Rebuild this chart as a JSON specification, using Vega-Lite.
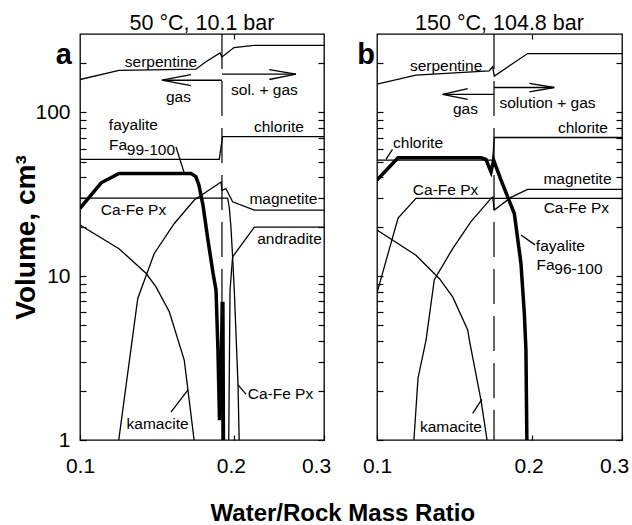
{
"$schema": "https://vega.github.io/schema/vega-lite/v6.json",
"padding": {"left": 12, "top": 12, "right": 2, "bottom": 0},
"bounds": "flush",
"spacing": 53,
"config": {
  "font": "Liberation Sans",
  "view": {"stroke": "black", "strokeWidth": 1.3},
  "axis": {"grid": false, "tickColor": "black", "labelColor": "black", "titleColor": "black", "labelFontSize": 21, "tickWidth": 1.2, "domain": false},
  "text": {"font": "Liberation Sans", "color": "black"},
  "title": {"color": "black"}
},
"title": {"text": "Water/Rock Mass Ratio", "orient": "bottom", "anchor": "middle", "fontSize": 24, "fontWeight": "bold", "dx": 22, "offset": 25},
"datasets": {
 "lines": [
  {"p":"a","s":"serpentine","i":0,"x":0.1,"y":158.3},
  {"p":"a","s":"serpentine","i":1,"x":0.1192,"y":180},
  {"p":"a","s":"serpentine","i":2,"x":0.1685,"y":183},
  {"p":"a","s":"serpentine","i":3,"x":0.1763,"y":203},
  {"p":"a","s":"serpentine","i":4,"x":0.1878,"y":230},
  {"p":"a","s":"serpentine","i":5,"x":0.1895,"y":217},
  {"p":"a","s":"serpentine","i":6,"x":0.2,"y":248},
  {"p":"a","s":"serpentine","i":7,"x":0.2189,"y":256},
  {"p":"a","s":"serpentine","i":8,"x":0.3,"y":256},
  {"p":"a","s":"chlorite","i":0,"x":0.1,"y":51.5},
  {"p":"a","s":"chlorite","i":1,"x":0.1872,"y":51.5},
  {"p":"a","s":"chlorite","i":2,"x":0.19,"y":71},
  {"p":"a","s":"chlorite","i":3,"x":0.3,"y":71},
  {"p":"a","s":"capx","i":0,"x":0.1,"y":29.9},
  {"p":"a","s":"capx","i":1,"x":0.1944,"y":29.9},
  {"p":"a","s":"capx","i":2,"x":0.1958,"y":26.4},
  {"p":"a","s":"capx","i":3,"x":0.1973,"y":20},
  {"p":"a","s":"capx","i":4,"x":0.1988,"y":13.1},
  {"p":"a","s":"capx","i":5,"x":0.2003,"y":8.2},
  {"p":"a","s":"capx","i":6,"x":0.2037,"y":2.17},
  {"p":"a","s":"capx","i":7,"x":0.2049,"y":0.9},
  {"p":"a","s":"andradite","i":0,"x":0.1953,"y":0.9},
  {"p":"a","s":"andradite","i":1,"x":0.1965,"y":8.2},
  {"p":"a","s":"andradite","i":2,"x":0.1988,"y":13.1},
  {"p":"a","s":"andradite","i":3,"x":0.2192,"y":19.9},
  {"p":"a","s":"andradite","i":4,"x":0.3,"y":19.9},
  {"p":"a","s":"magnetite","i":0,"x":0.1188,"y":0.95},
  {"p":"a","s":"magnetite","i":1,"x":0.1297,"y":7.3},
  {"p":"a","s":"magnetite","i":2,"x":0.1397,"y":13.75},
  {"p":"a","s":"magnetite","i":3,"x":0.1529,"y":20.95},
  {"p":"a","s":"magnetite","i":4,"x":0.1673,"y":29.1},
  {"p":"a","s":"magnetite","i":5,"x":0.1887,"y":37.5},
  {"p":"a","s":"magnetite","i":6,"x":0.1895,"y":33.4},
  {"p":"a","s":"magnetite","i":7,"x":0.1929,"y":34.2},
  {"p":"a","s":"magnetite","i":8,"x":0.1988,"y":28.4},
  {"p":"a","s":"magnetite","i":9,"x":0.2192,"y":25.3},
  {"p":"a","s":"magnetite","i":10,"x":0.3,"y":25.3},
  {"p":"a","s":"kamacite","i":0,"x":0.1,"y":20.5},
  {"p":"a","s":"kamacite","i":1,"x":0.1192,"y":14.7},
  {"p":"a","s":"kamacite","i":2,"x":0.1346,"y":10.4},
  {"p":"a","s":"kamacite","i":3,"x":0.1408,"y":8.6},
  {"p":"a","s":"kamacite","i":4,"x":0.1495,"y":6.06},
  {"p":"a","s":"kamacite","i":5,"x":0.1599,"y":3.07},
  {"p":"a","s":"kamacite","i":6,"x":0.1675,"y":0.95},
  {"p":"a","s":"fayalite","i":0,"x":0.1,"y":25.9},
  {"p":"a","s":"fayalite","i":1,"x":0.11,"y":37.1},
  {"p":"a","s":"fayalite","i":2,"x":0.1192,"y":42.3},
  {"p":"a","s":"fayalite","i":3,"x":0.1648,"y":42.3},
  {"p":"a","s":"fayalite","i":4,"x":0.1685,"y":40.5},
  {"p":"a","s":"fayalite","i":5,"x":0.1708,"y":36},
  {"p":"a","s":"fayalite","i":6,"x":0.174,"y":27},
  {"p":"a","s":"fayalite","i":7,"x":0.1779,"y":16.6},
  {"p":"a","s":"fayalite","i":8,"x":0.182,"y":10.45},
  {"p":"a","s":"fayalite","i":9,"x":0.1845,"y":8.2},
  {"p":"a","s":"fayalite","i":10,"x":0.1861,"y":3.54},
  {"p":"a","s":"fayalite","i":11,"x":0.1874,"y":1.32},
  {"p":"a","s":"fayalite","i":12,"x":0.1891,"y":3.5},
  {"p":"a","s":"fayalite","i":13,"x":0.1897,"y":6.8},
  {"p":"a","s":"fayalite","i":14,"x":0.1903,"y":6.8},
  {"p":"a","s":"fayalite","i":15,"x":0.1908,"y":0.8},
  {"p":"a","s":"arrowL","i":0,"x":0.1895,"y":156.7},
  {"p":"a","s":"arrowL","i":1,"x":0.1446,"y":156.7},
  {"p":"a","s":"arrowLh","i":0,"x":0.1648,"y":169.3},
  {"p":"a","s":"arrowLh","i":1,"x":0.1446,"y":156.7},
  {"p":"a","s":"arrowLh","i":2,"x":0.1648,"y":145.1},
  {"p":"a","s":"arrowR","i":0,"x":0.1895,"y":170.5},
  {"p":"a","s":"arrowR","i":1,"x":0.2644,"y":170.5},
  {"p":"a","s":"arrowRh","i":0,"x":0.2345,"y":182.1},
  {"p":"a","s":"arrowRh","i":1,"x":0.2644,"y":170.5},
  {"p":"a","s":"arrowRh","i":2,"x":0.2345,"y":158.3},
  {"p":"a","s":"ldFa","i":0,"x":0.1541,"y":61.3},
  {"p":"a","s":"ldFa","i":1,"x":0.1597,"y":43.1},
  {"p":"a","s":"ldPx","i":0,"x":0.2037,"y":2.17},
  {"p":"a","s":"ldPx","i":1,"x":0.2111,"y":1.907},
  {"p":"a","s":"ldKa","i":0,"x":0.1506,"y":1.48},
  {"p":"a","s":"ldKa","i":1,"x":0.1626,"y":2.02},
  {"p":"b","s":"serpentine","i":0,"x":0.1,"y":148.3},
  {"p":"b","s":"serpentine","i":1,"x":0.1191,"y":168.5},
  {"p":"b","s":"serpentine","i":2,"x":0.1654,"y":178.9},
  {"p":"b","s":"serpentine","i":3,"x":0.168,"y":189.4},
  {"p":"b","s":"serpentine","i":4,"x":0.1692,"y":166.1},
  {"p":"b","s":"serpentine","i":5,"x":0.1965,"y":228},
  {"p":"b","s":"serpentine","i":6,"x":0.3,"y":228},
  {"p":"b","s":"chlorite","i":0,"x":0.1,"y":51},
  {"p":"b","s":"chlorite","i":1,"x":0.168,"y":51},
  {"p":"b","s":"chlorite","i":2,"x":0.1692,"y":70.1},
  {"p":"b","s":"chlorite","i":3,"x":0.3,"y":70.1},
  {"p":"b","s":"capx","i":0,"x":0.1,"y":7.9},
  {"p":"b","s":"capx","i":1,"x":0.1099,"y":22.6},
  {"p":"b","s":"capx","i":2,"x":0.1191,"y":29.8},
  {"p":"b","s":"capx","i":3,"x":0.3,"y":29.8},
  {"p":"b","s":"magnetite","i":0,"x":0.118,"y":1},
  {"p":"b","s":"magnetite","i":1,"x":0.1202,"y":2.39},
  {"p":"b","s":"magnetite","i":2,"x":0.1246,"y":4.07},
  {"p":"b","s":"magnetite","i":3,"x":0.1293,"y":9.5},
  {"p":"b","s":"magnetite","i":4,"x":0.1404,"y":14.7},
  {"p":"b","s":"magnetite","i":5,"x":0.1524,"y":21.5},
  {"p":"b","s":"magnetite","i":6,"x":0.1667,"y":29.8},
  {"p":"b","s":"magnetite","i":7,"x":0.168,"y":30.3},
  {"p":"b","s":"magnetite","i":8,"x":0.1692,"y":25.3},
  {"p":"b","s":"magnetite","i":9,"x":0.1823,"y":30.2},
  {"p":"b","s":"magnetite","i":10,"x":0.1965,"y":33.8},
  {"p":"b","s":"magnetite","i":11,"x":0.3,"y":33.8},
  {"p":"b","s":"kamacite","i":0,"x":0.1,"y":19.1},
  {"p":"b","s":"kamacite","i":1,"x":0.1191,"y":13.4},
  {"p":"b","s":"kamacite","i":2,"x":0.1322,"y":9.67},
  {"p":"b","s":"kamacite","i":3,"x":0.1404,"y":7.47},
  {"p":"b","s":"kamacite","i":4,"x":0.1502,"y":4.69},
  {"p":"b","s":"kamacite","i":5,"x":0.1513,"y":4.07},
  {"p":"b","s":"kamacite","i":6,"x":0.1594,"y":1.75},
  {"p":"b","s":"kamacite","i":7,"x":0.1638,"y":1},
  {"p":"b","s":"fayalite","i":0,"x":0.1,"y":38.5},
  {"p":"b","s":"fayalite","i":1,"x":0.1099,"y":52.7},
  {"p":"b","s":"fayalite","i":2,"x":0.1594,"y":52.7},
  {"p":"b","s":"fayalite","i":3,"x":0.163,"y":51.5},
  {"p":"b","s":"fayalite","i":4,"x":0.1667,"y":43.2},
  {"p":"b","s":"fayalite","i":5,"x":0.1687,"y":51},
  {"p":"b","s":"fayalite","i":6,"x":0.1744,"y":38.5},
  {"p":"b","s":"fayalite","i":7,"x":0.1807,"y":29.1},
  {"p":"b","s":"fayalite","i":8,"x":0.1851,"y":24.1},
  {"p":"b","s":"fayalite","i":9,"x":0.1907,"y":11.95},
  {"p":"b","s":"fayalite","i":10,"x":0.1936,"y":5.93},
  {"p":"b","s":"fayalite","i":11,"x":0.195,"y":3.54},
  {"p":"b","s":"fayalite","i":12,"x":0.1959,"y":0.9},
  {"p":"b","s":"arrowL","i":0,"x":0.169,"y":128.6},
  {"p":"b","s":"arrowL","i":1,"x":0.1342,"y":128.6},
  {"p":"b","s":"arrowLh","i":0,"x":0.1502,"y":139.4},
  {"p":"b","s":"arrowLh","i":1,"x":0.1342,"y":128.6},
  {"p":"b","s":"arrowLh","i":2,"x":0.1502,"y":119.6},
  {"p":"b","s":"arrowR","i":0,"x":0.169,"y":141.5},
  {"p":"b","s":"arrowR","i":1,"x":0.2214,"y":141.5},
  {"p":"b","s":"arrowRh","i":0,"x":0.198,"y":150.1},
  {"p":"b","s":"arrowRh","i":1,"x":0.2214,"y":141.5},
  {"p":"b","s":"arrowRh","i":2,"x":0.198,"y":132.9},
  {"p":"b","s":"ldCh","i":0,"x":0.1041,"y":51.6},
  {"p":"b","s":"ldCh","i":1,"x":0.1072,"y":59.3},
  {"p":"b","s":"ldFa","i":0,"x":0.1907,"y":17.8},
  {"p":"b","s":"ldFa","i":1,"x":0.2031,"y":15.5},
  {"p":"b","s":"ldKa","i":0,"x":0.1536,"y":1.455},
  {"p":"b","s":"ldKa","i":1,"x":0.16,"y":1.77}
 ],
 "labels": [
  {"p":"a","text":"serpentine","x":0.144,"y":202},
  {"p":"a","text":"gas","x":0.1558,"y":123.5},
  {"p":"a","text":"sol. + gas","x":0.2294,"y":136},
  {"p":"a","text":"fayalite","x":0.1272,"y":83.3},
  {"p":"a","text":"Fa","x":0.1187,"y":62.9},
  {"p":"a","text":"99-100","x":0.1376,"y":58.6},
  {"p":"a","text":"chlorite","x":0.2449,"y":81.1},
  {"p":"a","text":"magnetite","x":0.2499,"y":29.5},
  {"p":"a","text":"andradite","x":0.2568,"y":16.8},
  {"p":"a","text":"Ca-Fe Px","x":0.1272,"y":25.3},
  {"p":"a","text":"Ca-Fe Px","x":0.2466,"y":1.907},
  {"p":"a","text":"kamacite","x":0.1418,"y":1.252},
  {"p":"b","text":"serpentine","x":0.1363,"y":191},
  {"p":"b","text":"gas","x":0.1487,"y":104},
  {"p":"b","text":"solution + gas","x":0.2148,"y":113.5},
  {"p":"b","text":"chlorite","x":0.2518,"y":79.9},
  {"p":"b","text":"chlorite","x":0.1202,"y":64.7},
  {"p":"b","text":"magnetite","x":0.2457,"y":39.0},
  {"p":"b","text":"Ca-Fe Px","x":0.136,"y":33.4},
  {"p":"b","text":"Ca-Fe Px","x":0.2445,"y":26.0},
  {"p":"b","text":"fayalite","x":0.2276,"y":15.2},
  {"p":"b","text":"Fa","x":0.2129,"y":11.67},
  {"p":"b","text":"96-100","x":0.2468,"y":11.0},
  {"p":"b","text":"kamacite","x":0.1393,"y":1.2}
 ],
 "letters": [
  {"p":"a","text":"a","x":0.093,"y":222.6},
  {"p":"b","text":"b","x":0.0952,"y":222.6}
 ],
 "rules": [
  {"p":"a","x":0.1895},
  {"p":"b","x":0.169}
 ]
},
"hconcat": [
 {
  "width": 244, "height": 406,
  "title": {"text": "50 °C, 10.1 bar", "fontSize": 21.5, "fontWeight": "normal", "frame": "group", "anchor": "middle", "offset": -1},
  "resolve": {"axis": {"x": "independent", "y": "independent"}},
  "layer": [
   {"data": {"name": "lines"}, "transform": [{"filter": "datum.p == 'a' && datum.s != 'fayalite'"}],
    "mark": {"type": "line", "color": "black", "strokeWidth": 1.3, "clip": true},
    "encoding": {
     "x": {"field": "x", "type": "quantitative", "scale": {"type": "log", "domain": [0.1, 0.3], "nice": false},
           "axis": {"orient": "bottom", "values": [0.1, 0.2, 0.3], "format": ".1f", "labelFlush": false, "tickSize": -5, "labelPadding": 20, "title": null,
                    "labelOffset": {"condition": [{"test": "datum.value > 0.25", "value": -8}, {"test": "datum.value > 0.15", "value": -3}], "value": 0}}},
     "y": {"field": "y", "type": "quantitative", "scale": {"type": "log", "domain": [1, 300], "nice": false},
           "axis": {"orient": "left", "values": [1,2,3,4,5,6,7,8,9,10,20,30,40,50,60,70,80,90,100,200],
                    "labelExpr": "(datum.value==1||datum.value==10||datum.value==100) ? datum.value + '' : ''",
                    "tickSize": -6, "labelPadding": 16, "title": "Volume, cm³", "titleFontSize": 28, "titleFontWeight": "bold", "titlePadding": -6}},
     "detail": {"field": "s"},
     "order": {"field": "i", "type": "quantitative"}
    }},
   {"data": {"name": "lines"}, "transform": [{"filter": "datum.p == 'a' && datum.s == 'fayalite'"}],
    "mark": {"type": "line", "color": "black", "strokeWidth": 3.5, "clip": true},
    "encoding": {
     "x": {"field": "x", "type": "quantitative", "axis": null},
     "y": {"field": "y", "type": "quantitative",
           "axis": {"orient": "right", "values": [1,2,3,4,5,6,7,8,9,10,20,30,40,50,60,70,80,90,100,200], "labels": false, "title": null, "tickSize": -6}},
     "order": {"field": "i", "type": "quantitative"}
    }},
   {"data": {"name": "rules"}, "transform": [{"filter": "datum.p == 'a'"}],
    "mark": {"type": "rule", "color": "black", "strokeWidth": 1.2, "strokeDash": [35, 12]},
    "encoding": {"x": {"field": "x", "type": "quantitative", "axis": {"orient": "top", "values": [0.2], "labels": false, "title": null, "tickSize": -5}}}},
   {"data": {"name": "labels"}, "transform": [{"filter": "datum.p == 'a'"}],
    "mark": {"type": "text", "fontSize": 15.5, "color": "black"},
    "encoding": {"x": {"field": "x", "type": "quantitative", "axis": null}, "y": {"field": "y", "type": "quantitative", "axis": null}, "text": {"field": "text"}}},
   {"data": {"name": "letters"}, "transform": [{"filter": "datum.p == 'a'"}],
    "mark": {"type": "text", "fontSize": 29, "fontWeight": "bold", "color": "black"},
    "encoding": {"x": {"field": "x", "type": "quantitative", "axis": null}, "y": {"field": "y", "type": "quantitative", "axis": null}, "text": {"field": "text"}}}
  ]
 },
 {
  "width": 245, "height": 406,
  "title": {"text": "150 °C, 104.8 bar", "fontSize": 21.5, "fontWeight": "normal", "frame": "group", "anchor": "middle", "offset": -1},
  "resolve": {"axis": {"x": "independent", "y": "independent"}},
  "layer": [
   {"data": {"name": "lines"}, "transform": [{"filter": "datum.p == 'b' && datum.s != 'fayalite'"}],
    "mark": {"type": "line", "color": "black", "strokeWidth": 1.3, "clip": true},
    "encoding": {
     "x": {"field": "x", "type": "quantitative", "scale": {"type": "log", "domain": [0.1, 0.3], "nice": false},
           "axis": {"orient": "bottom", "values": [0.1, 0.2, 0.3], "format": ".1f", "labelFlush": false, "tickSize": -5, "labelPadding": 20, "title": null,
                    "labelOffset": {"condition": [{"test": "datum.value > 0.25", "value": -8}, {"test": "datum.value > 0.15", "value": -3}], "value": 0}}},
     "y": {"field": "y", "type": "quantitative", "scale": {"type": "log", "domain": [1, 300], "nice": false},
           "axis": {"orient": "left", "values": [1,2,3,4,5,6,7,8,9,10,20,30,40,50,60,70,80,90,100,200], "labels": false, "title": null, "tickSize": -6}},
     "detail": {"field": "s"},
     "order": {"field": "i", "type": "quantitative"}
    }},
   {"data": {"name": "lines"}, "transform": [{"filter": "datum.p == 'b' && datum.s == 'fayalite'"}],
    "mark": {"type": "line", "color": "black", "strokeWidth": 3.5, "clip": true},
    "encoding": {
     "x": {"field": "x", "type": "quantitative", "axis": null},
     "y": {"field": "y", "type": "quantitative",
           "axis": {"orient": "right", "values": [1,2,3,4,5,6,7,8,9,10,20,30,40,50,60,70,80,90,100,200], "labels": false, "title": null, "tickSize": -6}},
     "order": {"field": "i", "type": "quantitative"}
    }},
   {"data": {"name": "rules"}, "transform": [{"filter": "datum.p == 'b'"}],
    "mark": {"type": "rule", "color": "black", "strokeWidth": 1.2, "strokeDash": [35, 12]},
    "encoding": {"x": {"field": "x", "type": "quantitative", "axis": {"orient": "top", "values": [0.2], "labels": false, "title": null, "tickSize": -5}}}},
   {"data": {"name": "labels"}, "transform": [{"filter": "datum.p == 'b'"}],
    "mark": {"type": "text", "fontSize": 15.5, "color": "black"},
    "encoding": {"x": {"field": "x", "type": "quantitative", "axis": null}, "y": {"field": "y", "type": "quantitative", "axis": null}, "text": {"field": "text"}}},
   {"data": {"name": "letters"}, "transform": [{"filter": "datum.p == 'b'"}],
    "mark": {"type": "text", "fontSize": 29, "fontWeight": "bold", "color": "black"},
    "encoding": {"x": {"field": "x", "type": "quantitative", "axis": null}, "y": {"field": "y", "type": "quantitative", "axis": null}, "text": {"field": "text"}}}
  ]
 }
]
}
